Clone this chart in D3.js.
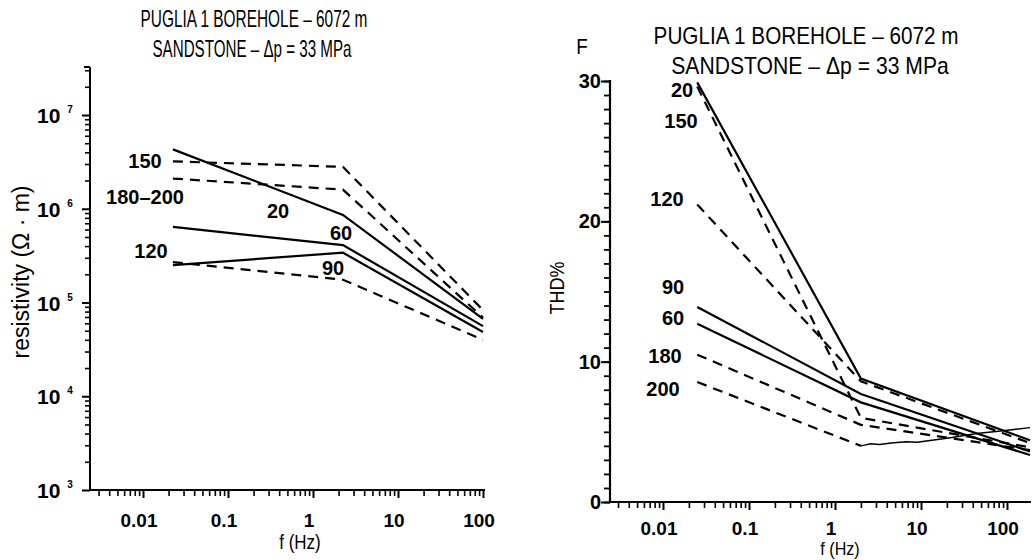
<!DOCTYPE html>
<html><head><meta charset="utf-8">
<script src="https://cdn.jsdelivr.net/npm/d3@7"></script>
<style>
body{margin:0;background:#fff;}
svg{display:block;}
.narrow{font-family:"Liberation Sans",Arial,sans-serif;}
.num{font-family:"Liberation Sans",Arial,sans-serif;font-weight:bold;}
</style></head>
<body><svg id="c" width="1034" height="560"></svg>
<script>
// ---------- DATA ----------
const titleLines = ["PUGLIA 1 BOREHOLE – 6072 m", "SANDSTONE – Δp = 33 MPa"];
// Left panel: resistivity (ohm·m) vs frequency (Hz)
const freqL = [0.0225, 2.25, 100];
const res20 = [4.3e6, 8.6e5, 6.7e4];
const res60 = [6.4e5, 4.1e5, 5.6e4];
const res90 = [2.5e5, 3.4e5, 4.85e4];
const res150 = [3.2e6, 2.8e6, 8.3e4];
const res180_200 = [2.1e6, 1.6e6, 6.9e4];
const res120 = [2.7e5, 1.75e5, 4.0e4];
const yTicksL = [1e3, 1e4, 1e5, 1e6, 1e7];
const yExpL = ["3", "4", "5", "6", "7"];
// Right panel: THD% vs frequency (Hz)
const freqR = [0.025, 2.0, 185];
const thd20 = [29.9, 8.8, 4.4];
const thd150 = [29.6, 6.0, 3.9];
const thd120 = [21.2, 8.6, 4.2];
const thd90 = [13.9, 7.7, 3.6];
const thd60 = [12.7, 7.1, 3.35];
const thd180 = [10.5, 5.5, 3.7];
const freq200 = [0.025, 2.0];
const thd200 = [8.55, 4.0];
const freq200tail = [2.0, 2.6, 3.3, 4.5, 6.7, 9, 13.4, 18, 23, 33, 47, 70, 114, 185];
const thd200tail = [4.0, 4.15, 4.1, 4.2, 4.3, 4.25, 4.4, 4.5, 4.6, 4.75, 4.9, 5.0, 5.15, 5.3];
const yTicksR = [0, 10, 20, 30];
const xTickVals = [0.01, 0.1, 1, 10, 100];
const xTickLabels = ["0.01", "0.1", "1", "10", "100"];

// ---------- DRAW ----------
const svg = d3.select("#c");
function minorLogTicks(lo, hi) {
  const out = [];
  for (let e = Math.floor(Math.log10(lo)); e <= Math.ceil(Math.log10(hi)); e++) {
    for (let k = 1; k <= 9; k++) { const v = k * Math.pow(10, e); if (v >= lo * 0.999 && v <= hi * 1.001) out.push(v); }
  }
  return out;
}
function series(f, v) { return f.map((d, i) => ({f: d, v: v[i]})); }
function narrowText(g, x, y, size, sx, txt) {
  return g.append("text").attr("class", "narrow")
    .attr("transform", `translate(${x},${y}) scale(${sx},1)`)
    .attr("text-anchor", "middle").attr("font-size", size).text(txt);
}

// ===== LEFT PANEL =====
const xL = d3.scaleLog().domain([0.01, 100]).range([143, 483]);
const yL = d3.scaleLog().domain([1e3, 1e7]).range([490, 115]);
const xLext = [xL.invert(90), xL.invert(485)];
const yLext = [1e3, yL.invert(67)];
const gL = svg.append("g");
gL.append("line").attr("x1", xL(xLext[0])).attr("x2", xL(xLext[1])).attr("y1", 490).attr("y2", 490).attr("stroke", "#000").attr("stroke-width", 2);
gL.append("line").attr("x1", 90).attr("x2", 90).attr("y1", 490).attr("y2", yL(yLext[1])).attr("stroke", "#000").attr("stroke-width", 2);
gL.append("g").attr("transform", "translate(0,490)")
  .call(d3.axisBottom(xL).tickValues(minorLogTicks(xLext[0], xLext[1]).filter(v => !xTickVals.includes(v))).tickSize(6).tickFormat(""))
  .call(g => g.select(".domain").remove()).selectAll("line").attr("stroke-width", 1.6);
gL.append("g").attr("transform", "translate(0,490)")
  .call(d3.axisBottom(xL).tickValues(xTickVals).tickSize(8).tickFormat(""))
  .call(g => g.select(".domain").remove()).selectAll("line").attr("stroke-width", 2);
gL.append("g").attr("transform", "translate(90,0)")
  .call(d3.axisLeft(yL).tickValues(minorLogTicks(yLext[0], yLext[1]).filter(v => !yTicksL.includes(v))).tickSize(5).tickFormat(""))
  .call(g => g.select(".domain").remove()).selectAll("line").attr("stroke-width", 1.6);
gL.append("g").attr("transform", "translate(90,0)")
  .call(d3.axisLeft(yL).tickValues(yTicksL).tickSize(8).tickFormat(""))
  .call(g => g.select(".domain").remove()).selectAll("line").attr("stroke-width", 2);
gL.append("line").attr("x1", 84).attr("x2", 90).attr("y1", 67).attr("y2", 67).attr("stroke", "#000").attr("stroke-width", 2);
yTicksL.forEach((v, i) => {
  const t = gL.append("text").attr("class", "num").attr("x", 37).attr("y", yL(v) + 8).attr("font-size", 21);
  t.append("tspan").text("10");
  t.append("tspan").attr("dx", 7).attr("dy", -10).attr("font-size", 10).text(yExpL[i]);
});
xTickVals.forEach((v, i) => {
  gL.append("text").attr("class", "num").attr("x", xL(v) - 4).attr("y", 527).attr("text-anchor", "middle").attr("font-size", 19).text(xTickLabels[i]);
});
narrowText(gL, 300, 549, 20, 0.85, "f (Hz)");
gL.append("text").attr("class", "narrow").attr("transform", "translate(29,272) rotate(-90)").attr("text-anchor", "middle").attr("font-size", 23).text("resistivity (Ω · m)");
narrowText(gL, 254, 27, 23, 0.67, titleLines[0]);
narrowText(gL, 252, 57, 23, 0.66, titleLines[1]);

const lineL = d3.line().x(d => xL(d.f)).y(d => yL(d.v));
const leftSeries = [
  {v: res20, dash: null}, {v: res60, dash: null}, {v: res90, dash: null},
  {v: res150, dash: "10,7"}, {v: res180_200, dash: "10,7"}, {v: res120, dash: "10,7"}
];
leftSeries.forEach(s => {
  gL.append("path").datum(series(freqL, s.v)).attr("d", lineL).attr("fill", "none")
    .attr("stroke", "#000").attr("stroke-width", 2.2).attr("stroke-dasharray", s.dash);
});
const labelsL = [
  {t: "150", x: 145, y: 168}, {t: "180–200", x: 145, y: 204}, {t: "20", x: 278, y: 218},
  {t: "60", x: 341, y: 240}, {t: "90", x: 333, y: 275}, {t: "120", x: 151, y: 258}
];
labelsL.forEach(l => gL.append("text").attr("class", "num").attr("x", l.x).attr("y", l.y).attr("text-anchor", "middle").attr("font-size", 20).attr("font-weight", "normal").text(l.t));

// ===== RIGHT PANEL =====
const xR = d3.scaleLog().domain([0.01, 100]).range([663, 1007]);
const yR = d3.scaleLinear().domain([0, 30]).range([502, 81]);
const xRext = [xR.invert(610), xR.invert(1031)];
const gR = svg.append("g");
gR.append("line").attr("x1", 610).attr("x2", 1031).attr("y1", 502).attr("y2", 502).attr("stroke", "#000").attr("stroke-width", 2);
gR.append("line").attr("x1", 610).attr("x2", 610).attr("y1", 502).attr("y2", 80).attr("stroke", "#000").attr("stroke-width", 2.2);
gR.append("g").attr("transform", "translate(0,502)")
  .call(d3.axisBottom(xR).tickValues(minorLogTicks(xRext[0], xRext[1]).filter(v => !xTickVals.includes(v))).tickSize(6).tickFormat(""))
  .call(g => g.select(".domain").remove()).selectAll("line").attr("stroke-width", 1.6);
gR.append("g").attr("transform", "translate(0,502)")
  .call(d3.axisBottom(xR).tickValues(xTickVals).tickSize(8).tickFormat(""))
  .call(g => g.select(".domain").remove()).selectAll("line").attr("stroke-width", 2);
gR.append("g").attr("transform", "translate(610,0)")
  .call(d3.axisLeft(yR).tickValues(d3.range(0, 31)).tickSize(6).tickFormat(""))
  .call(g => g.select(".domain").remove()).selectAll("line").attr("stroke-width", 1.8);
gR.append("g").attr("transform", "translate(610,0)")
  .call(d3.axisLeft(yR).tickValues(yTicksR).tickSize(9).tickFormat(""))
  .call(g => g.select(".domain").remove()).selectAll("line").attr("stroke-width", 2);
yTicksR.forEach(v => gR.append("text").attr("class", "num").attr("x", 601).attr("y", yR(v) + 7).attr("text-anchor", "end").attr("font-size", 20).text(v));
xTickVals.forEach((v, i) => {
  gR.append("text").attr("class", "num").attr("x", xR(v) - 4).attr("y", 535).attr("text-anchor", "middle").attr("font-size", 19).text(xTickLabels[i]);
});
narrowText(gR, 840, 555, 19, 0.85, "f (Hz)");
gR.append("text").attr("class", "narrow").attr("transform", "translate(564,288) rotate(-90) scale(0.9,1)").attr("text-anchor", "middle").attr("font-size", 20).text("THD%");
narrowText(gR, 806, 44, 23, 0.9, titleLines[0]);
narrowText(gR, 810, 74, 23, 0.92, titleLines[1]);
narrowText(gR, 582, 54, 22, 0.85, "F");

const lineR = d3.line().x(d => xR(d.f)).y(d => yR(d.v));
const rightSeries = [
  {f: freqR, v: thd20, dash: null, w: 2.2}, {f: freqR, v: thd90, dash: null, w: 2.2}, {f: freqR, v: thd60, dash: null, w: 2.2},
  {f: freqR, v: thd150, dash: "10,7", w: 2.2}, {f: freqR, v: thd120, dash: "10,7", w: 2.2}, {f: freqR, v: thd180, dash: "10,7", w: 2.2},
  {f: freq200, v: thd200, dash: "10,7", w: 2.2}, {f: freq200tail, v: thd200tail, dash: null, w: 1.5}
];
rightSeries.forEach(s => {
  gR.append("path").datum(series(s.f, s.v)).attr("d", lineR).attr("fill", "none")
    .attr("stroke", "#000").attr("stroke-width", s.w).attr("stroke-dasharray", s.dash);
});
const labelsR = [
  {t: "20", x: 682, y: 97}, {t: "150", x: 681, y: 128}, {t: "120", x: 667, y: 206},
  {t: "90", x: 673, y: 294}, {t: "60", x: 673, y: 325}, {t: "180", x: 665, y: 363}, {t: "200", x: 663, y: 396}
];
labelsR.forEach(l => gR.append("text").attr("class", "num").attr("x", l.x).attr("y", l.y).attr("text-anchor", "middle").attr("font-size", 20).attr("font-weight", "normal").text(l.t));
</script></body></html>
